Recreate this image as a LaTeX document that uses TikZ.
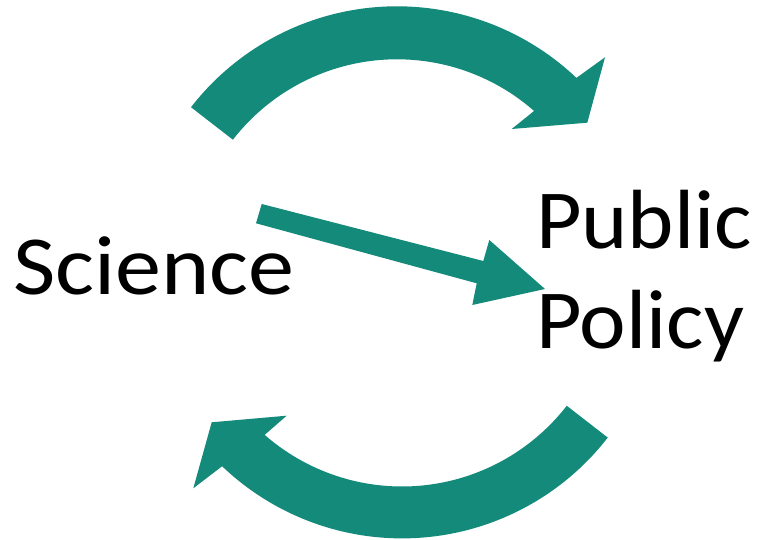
\documentclass[tikz,border=0pt]{standalone}
\usepackage{fontspec}
\setmainfont{Carlito}
\usetikzlibrary{calc}
\definecolor{arrowteal}{RGB}{19,138,122}
\tikzset{
  bigarrow/.style={fill=arrowteal, draw=none},
  label/.style={inner sep=0pt, outer sep=0pt, anchor=base west, font=\fontsize{84}{100}\selectfont}
}
\begin{document}
\begin{tikzpicture}[x=1pt,y=1pt]
\useasboundingbox (0,0) rectangle (771,540);
\coordinate (C) at (397,273);
\coordinate (D) at (402,262);
% top curved arrow
\fill[bigarrow] ($(C)+(142.2:260.7)$) arc[start angle=142.2, end angle=46.5, radius=260.7pt]
  -- (605,482.7) -- (587.3,417.3) -- (511.7,411)
  -- ($(C)+(48.7:207.7)$) arc[start angle=48.7, end angle=142.2, radius=207.7pt] -- cycle;
% bottom curved arrow
\fill[bigarrow] ($(D)+(-37.8:260.4)$) arc[start angle=-37.8, end angle=-133.7, radius=260.4pt]
  -- (193.3,51.7) -- (211.7,117.7) -- (286.7,124.3)
  -- ($(D)+(-131.2:208.5)$) arc[start angle=-131.2, end angle=-37.8, radius=208.5pt] -- cycle;
% middle straight arrow
\fill[bigarrow] (261.7,336) -- (483.3,279) -- (489.3,300) -- (545,251) -- (472.3,235) -- (476.7,256.7) -- (256,316.7) -- cycle;
% labels
\node[label, xscale=1.097] (sci) at (13,245) {Science};
\node[label, xscale=1.05] (pub) at (536,291.5) {Public};
\node[label, xscale=1.05] (pol) at (536,191.5) {Policy};
\end{tikzpicture}
\end{document}
